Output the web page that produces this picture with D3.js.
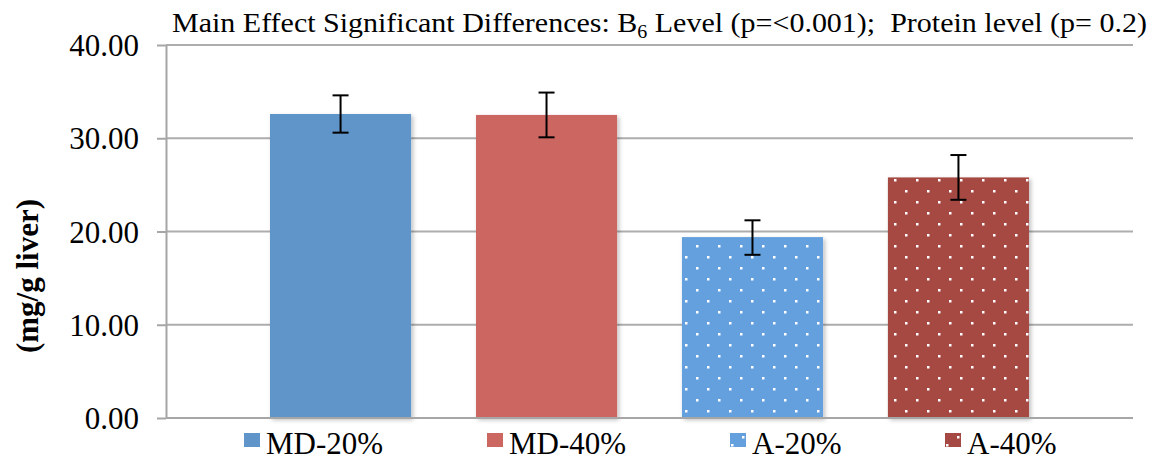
<!DOCTYPE html>
<html>
<head>
<meta charset="utf-8">
<script src="https://cdn.jsdelivr.net/npm/d3@7"></script>
<style>
  body { margin: 0; background: #fff; }
  svg { display: block; }
  text { font-family: "Liberation Serif", "Times New Roman", Times, "DejaVu Serif", serif; }
</style>
</head>
<body>
<svg id="chart"></svg>
<script>
// data
const groups = ["MD-20%", "MD-40%", "A-20%", "A-40%"]
const means = [32.6, 32.5, 19.4, 25.8]
const errUp = [2.0, 2.4, 1.8, 2.4]
const errDown = [2.0, 2.4, 1.9, 2.4]
const yTicks = [0, 10, 20, 30, 40]
const colors = ["#5f95c9", "#cc6660", "#64a0dd", "#a64843"]
const dotted = [false, false, true, true]

const serif = '"Liberation Serif", "Times New Roman", Times, "DejaVu Serif", serif'

const dimensions = {
  width: 1157,
  height: 462,
  margin: { top: 45, bottom: 44, right: 24, left: 166 },
}
dimensions.boundedWidth = dimensions.width - dimensions.margin.left - dimensions.margin.right
dimensions.boundedHeight = dimensions.height - dimensions.margin.top - dimensions.margin.bottom

const wrapper = d3.select("#chart")
  .attr("width", dimensions.width)
  .attr("height", dimensions.height)

const defs = wrapper.append("defs")
colors.forEach((c, i) => {
  if (!dotted[i]) return
  const p = defs.append("pattern")
    .attr("id", "dots" + i)
    .attr("patternUnits", "userSpaceOnUse")
    .attr("width", 22).attr("height", 22)
  p.append("rect").attr("width", 22).attr("height", 22).attr("fill", c)
  p.append("rect").attr("x", 2).attr("y", 2).attr("width", 2.5).attr("height", 2.5).attr("fill", "#fff")
  p.append("rect").attr("x", 13).attr("y", 13).attr("width", 2.5).attr("height", 2.5).attr("fill", "#fff")
})
const shadow = defs.append("filter").attr("id", "shadow")
  .attr("x", "-5%").attr("y", "-5%").attr("width", "115%").attr("height", "115%")
shadow.append("feDropShadow").attr("dx", 2).attr("dy", 2).attr("stdDeviation", 2)
  .attr("flood-color", "#000").attr("flood-opacity", 0.25)

const fillFor = (i) => dotted[i] ? `url(#dots${i})` : colors[i]

const bounds = wrapper.append("g")
  .attr("transform", `translate(${dimensions.margin.left},${dimensions.margin.top})`)

// scales
const xScale = d3.scaleBand()
  .domain(groups)
  .range([0, dimensions.boundedWidth])
  .paddingInner(0.315)
  .paddingOuter(0.505)

const yScale = d3.scaleLinear()
  .domain([0, 40])
  .range([dimensions.boundedHeight, 0])

// gridlines
bounds.append("g").selectAll("line")
  .data(yTicks.slice(1))
  .join("line")
  .attr("x1", 0).attr("x2", dimensions.boundedWidth)
  .attr("y1", (d) => yScale(d)).attr("y2", (d) => yScale(d))
  .attr("stroke", "#adadad").attr("stroke-width", 2)

// y axis
const yAxis = bounds.append("g")
  .call(d3.axisLeft(yScale).tickValues(yTicks).tickFormat(d3.format(".2f")).tickSize(9).tickSizeOuter(0).tickPadding(18))
yAxis.attr("font-family", null)
yAxis.select(".domain").attr("stroke", "#a6a6a6").attr("stroke-width", 2)
yAxis.selectAll(".tick line").attr("stroke", "#a6a6a6").attr("stroke-width", 2)
yAxis.selectAll(".tick text")
  .style("font-family", serif)
  .attr("font-size", 31).attr("fill", "#000").attr("dy", "0.34em")

// bars
bounds.append("g").selectAll("rect")
  .data(groups)
  .join("rect")
  .attr("x", (d) => xScale(d))
  .attr("width", xScale.bandwidth())
  .attr("y", (d, i) => yScale(means[i]))
  .attr("height", (d, i) => dimensions.boundedHeight - yScale(means[i]))
  .attr("fill", (d, i) => fillFor(i))
  .attr("filter", "url(#shadow)")

// x baseline
bounds.append("line")
  .attr("x1", 0).attr("x2", dimensions.boundedWidth)
  .attr("y1", dimensions.boundedHeight).attr("y2", dimensions.boundedHeight)
  .attr("stroke", "#a6a6a6").attr("stroke-width", 2)

// error bars
const eb = bounds.append("g").attr("stroke", "#000").attr("stroke-width", 2)
groups.forEach((g, i) => {
  const cx = xScale(g) + xScale.bandwidth() / 2
  const yHi = yScale(means[i] + errUp[i])
  const yLo = yScale(means[i] - errDown[i])
  eb.append("line").attr("x1", cx).attr("x2", cx).attr("y1", yHi).attr("y2", yLo)
  eb.append("line").attr("x1", cx - 8).attr("x2", cx + 8).attr("y1", yHi).attr("y2", yHi)
  eb.append("line").attr("x1", cx - 8).attr("x2", cx + 8).attr("y1", yLo).attr("y2", yLo)
})

// title
const title = wrapper.append("text")
  .attr("x", 172).attr("y", 32)
  .style("font-family", serif)
  .attr("font-size", 27)
  .attr("textLength", 975).attr("lengthAdjust", "spacingAndGlyphs")
title.append("tspan").text("Main Effect Significant Differences: B")
title.append("tspan").attr("font-size", 18).attr("dy", 6).text("6")
title.append("tspan").attr("dy", -6).text(" Level (p=<0.001);\u00a0 Protein level (p= 0.2)")

// y axis title
wrapper.append("text")
  .attr("transform", "translate(38,276) rotate(-90)")
  .attr("text-anchor", "middle")
  .style("font-family", serif)
  .attr("font-weight", "bold")
  .attr("font-size", 31)
  .text("(mg/g liver)")

// legend
const legendX = [244, 487, 730, 945]
const legend = wrapper.append("g").selectAll("g")
  .data(groups)
  .join("g")
  .attr("transform", (d, i) => `translate(${legendX[i]},433)`)
legend.append("rect")
  .attr("width", 16).attr("height", 14)
  .attr("fill", (d, i) => colors[i])
legend.filter((d, i) => dotted[i]).append("rect")
  .attr("x", 12).attr("y", 3).attr("width", 2.5).attr("height", 2.5).attr("fill", "#fff")
legend.filter((d, i) => dotted[i]).append("rect")
  .attr("x", 1).attr("y", 11).attr("width", 2.5).attr("height", 2.5).attr("fill", "#fff")
legend.append("text")
  .attr("x", 22).attr("y", 21)
  .style("font-family", serif)
  .attr("font-size", 31)
  .text((d) => d)
</script>
</body>
</html>
